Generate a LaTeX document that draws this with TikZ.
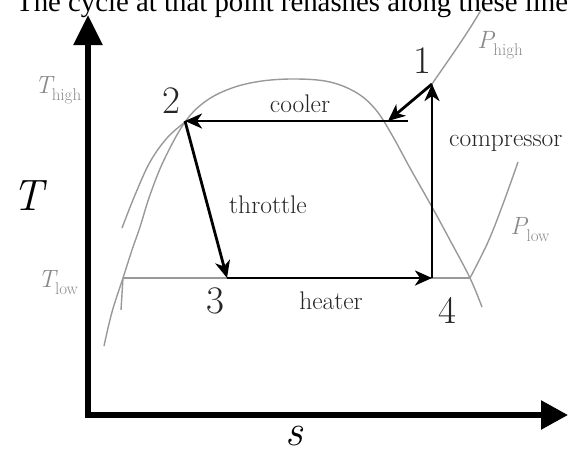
\documentclass[tikz,border=0pt]{standalone}
\usepackage{fontspec}
\newfontfamily\timesfont{Liberation Serif}
\usetikzlibrary{arrows.meta}
\definecolor{curvegray}{HTML}{999999}
\definecolor{labgray}{HTML}{8A8A8A}
\definecolor{ink}{HTML}{262626}
\newcommand{\symsub}[2]{{\itshape #1}\kern-0.5pt\raisebox{-0.28em}{\fontsize{17}{19}\selectfont #2}}
\tikzset{
  axisline/.style={line width=5.5pt, line join=miter, black},
  cyclearrow/.style={line width=2.8pt, black, -{Stealth[length=17pt,width=15pt,inset=5pt]}},
  satcurve/.style={line width=1.4pt, curvegray},
  steplabel/.style={font=\fontsize{25.5}{29}\selectfont, text=ink, inner sep=0pt},
  numlabel/.style={font=\fontsize{39}{42}\selectfont, text=ink, inner sep=0pt},
  graylabel/.style={font=\fontsize{25}{28}\selectfont, text=labgray, inner sep=0pt},
  axislabel/.style={font=\itshape\fontsize{44}{48}\selectfont, text=black, inner sep=0pt}
}
\begin{document}
\begin{tikzpicture}[x=1pt,y=-1pt]
\path[use as bounding box] (0,0) rectangle (568,453);
\clip (0,0) rectangle (568,453);

% cut-off line of text at the top
\node[anchor=base west, inner sep=0pt, font=\timesfont\fontsize{28.8}{32}\selectfont] (toptext) at (16,11) {The cycle at that point rehashes along these lines};

% key points
\coordinate (O) at (88,415);
\coordinate (ytip) at (88,15);
\coordinate (xtip) at (568,415);
\coordinate (p1) at (432,84);
\coordinate (p2) at (185,121);
\coordinate (p3) at (227,278);
\coordinate (p4) at (432,278);
\coordinate (cstart) at (408,121);
\coordinate (cend) at (388,121);
\coordinate (tl) at (123,278);
\coordinate (tr) at (470,278);
\coordinate (tick) at (121,310);
\coordinate (ph) at (481,10);

% saturation dome
\draw[satcurve] plot[smooth, tension=0.6] coordinates {(104,346) (112,312) (123,278) (132,250) (140,227) (150,195) (164,160) (185,122) (206,101) (232,88) (262,81) (297,79) (330,82) (357,93) (376,110) (392,135) (410,168) (432,207) (451,242) (470,278) (482,307)};
% high pressure isobar (liquid side)
\draw[satcurve] plot[smooth, tension=0.6] coordinates {(122,228) (135,195) (150,162) (167,138) (185,122)};
% high pressure isobar (vapour side)
\draw[satcurve] (p1) .. controls (447,62) and (466,36) .. (ph);
% low pressure isobar
\draw[satcurve] (tl) -- (tr);
\draw[satcurve] (tl) -- (tick);
\draw[satcurve] plot[smooth, tension=0.6] coordinates {(470,278) (488,242) (503,204) (518,162)};

% axes
\draw[axisline, {Triangle[length=30pt,width=28pt]}-{Triangle[length=27pt,width=28pt]}] (ytip) -- (O) -- (xtip);

% cycle
\draw[cyclearrow] (cstart) -- (p2);
\draw[cyclearrow] (p2) -- (p3);
\draw[cyclearrow] (p3) -- (p4);
\draw[cyclearrow] (p4) -- (p1);
\draw[cyclearrow] (p1) -- (cend);

% labels
\node[numlabel] (n1) at (422,61) {1};
\node[numlabel] (n2) at (171,101) {2};
\node[numlabel] (n3) at (215,301) {3};
\node[numlabel] (n4) at (447,310) {4};
\node[steplabel] (cooler) at (300,104) {cooler};
\node[steplabel] (throttle) at (268,205) {throttle};
\node[steplabel] (heater) at (331,301) {heater};
\node[steplabel, anchor=west] (compressor) at (449,143) {compressor};
\node[graylabel] (thigh) at (58,90) {\symsub{T}{high}};
\node[graylabel] (tlow) at (58,283) {\symsub{T}{low}};
\node[graylabel] (phigh) at (500,45) {\symsub{P}{high}};
\node[graylabel] (plow) at (530,230) {\symsub{P}{low}};
\node[axislabel] (Tlab) at (28,196) {T};
\node[axislabel] (slab) at (294,436) {s};
\end{tikzpicture}
\end{document}
